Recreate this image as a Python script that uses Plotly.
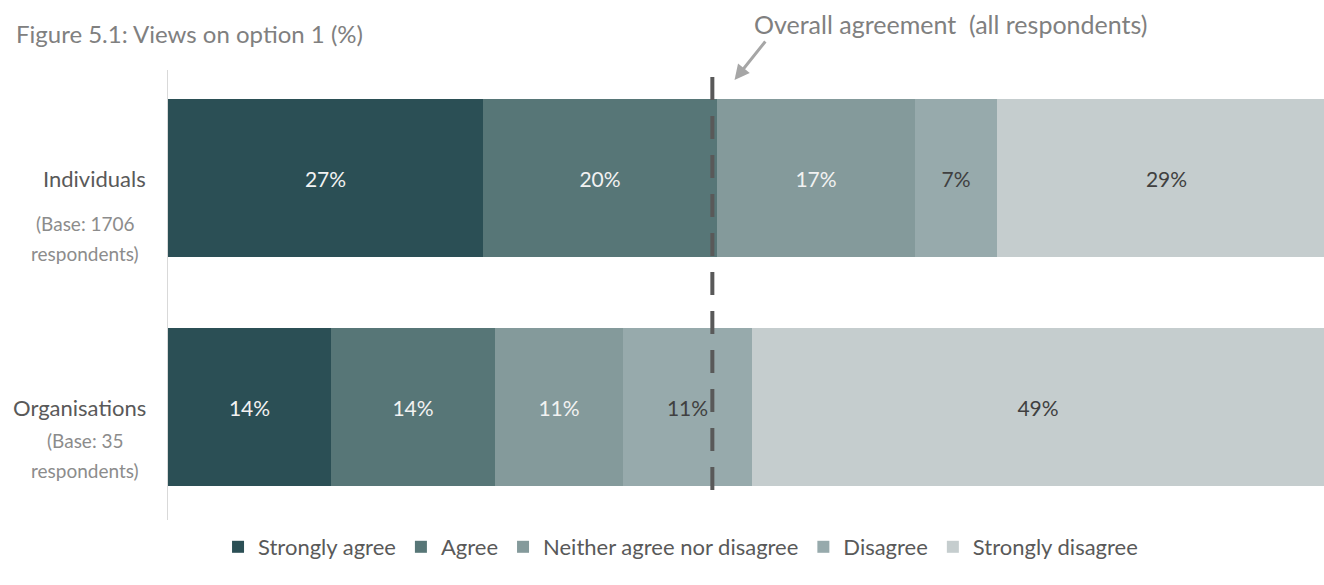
import plotly.graph_objects as go

# Survey responses (percent of each respondent group)
groups = ["Individuals", "Organisations"]
bases = [1706, 35]
responses = ["Strongly agree", "Agree", "Neither agree nor disagree", "Disagree", "Strongly disagree"]
strongly_agree = [27, 14]
agree = [20, 14]
neither = [17, 11]
disagree = [7, 11]
strongly_disagree = [29, 49]

series = [strongly_agree, agree, neither, disagree, strongly_disagree]
colors = ["#2b4f55", "#577677", "#849a9b", "#97aaac", "#c5cdce"]
text_colors = ["#f2f2f2", "#f2f2f2", "#f2f2f2", "#404040", "#404040"]

# Weighted share agreeing across all respondents
overall_agreement = sum((strongly_agree[i] + agree[i]) * bases[i] for i in range(2)) / sum(bases)

FONT = "Lato"
ypos = [0, 1]
PW, PH, L, T = 1156, 450, 168, 70  # plot area size and offsets in px


def px_x(p):
    return (p - L) / PW


def px_y(p):
    return 1 - (p - T) / PH


fig = go.Figure()
for name, vals, col, tcol in zip(responses, series, colors, text_colors):
    fig.add_trace(go.Bar(
        y=ypos, x=vals, name=name, orientation="h",
        marker=dict(color=col, line=dict(width=0)),
        width=0.69,
        text=[f"{v}%" for v in vals], textposition="inside",
        insidetextanchor="middle",
        textfont=dict(color=tcol, size=21, family=FONT),
        hoverinfo="skip",
    ))

# Reference line for overall agreement
fig.add_shape(type="line", xref="x", yref="paper",
              x0=overall_agreement, x1=overall_agreement, y0=px_y(490), y1=px_y(61),
              line=dict(color="#595959", width=4, dash="23px,16px"))

annotations = [
    dict(text="Figure 5.1: Views on option 1 (%)", xref="paper", yref="paper",
         x=px_x(14), y=px_y(34), xanchor="left", yanchor="middle",
         showarrow=False, font=dict(size=24, color="#808080", family=FONT)),
    dict(text="Overall agreement  (all respondents)", xref="paper", yref="paper",
         x=px_x(950), y=px_y(24), xanchor="center", yanchor="middle",
         showarrow=False, font=dict(size=25, color="#808080", family=FONT)),
    dict(text="", xref="x", yref="paper", x=overall_agreement + 1.9, y=px_y(80),
         ax=32, ay=-40, showarrow=True, arrowhead=2, arrowsize=1,
         arrowwidth=3, arrowcolor="#a6a6a6"),
]

base_lines = [(223, 253), (440, 470)]
for i, g in enumerate(groups):
    annotations.append(dict(
        text=g, xref="paper", yref="y", x=px_x(148), y=ypos[i],
        xanchor="right", yanchor="middle", showarrow=False,
        font=dict(size=22, color="#595959", family=FONT)))
    for line_text, yp in zip([f"(Base: {bases[i]}", "respondents)"], base_lines[i]):
        annotations.append(dict(
            text=line_text, xref="paper", yref="paper",
            x=px_x(85), y=px_y(yp), xanchor="center", yanchor="middle",
            showarrow=False, font=dict(size=19, color="#8c8c8c", family=FONT)))

fig.update_layout(
    width=1324, height=585,
    margin=dict(l=L, r=0, t=T, b=585 - T - PH),
    barmode="stack", bargap=0,
    paper_bgcolor="white", plot_bgcolor="white",
    font=dict(family=FONT, color="#595959"),
    xaxis=dict(range=[0, 99], showgrid=False, zeroline=False, showline=False,
               showticklabels=False, ticks=""),
    yaxis=dict(range=[1.493, -0.472], showgrid=False, zeroline=False,
               showline=True, linecolor="#d9d9d9", linewidth=1,
               showticklabels=False, ticks=""),
    legend=dict(orientation="h", xref="container", yref="container",
                x=0.514, y=38/585, xanchor="center", yanchor="middle",
                font=dict(size=22, color="#595959", family=FONT),
                traceorder="normal", itemwidth=30),
    annotations=annotations,
    showlegend=True,
)

fig.write_html("out.html")
